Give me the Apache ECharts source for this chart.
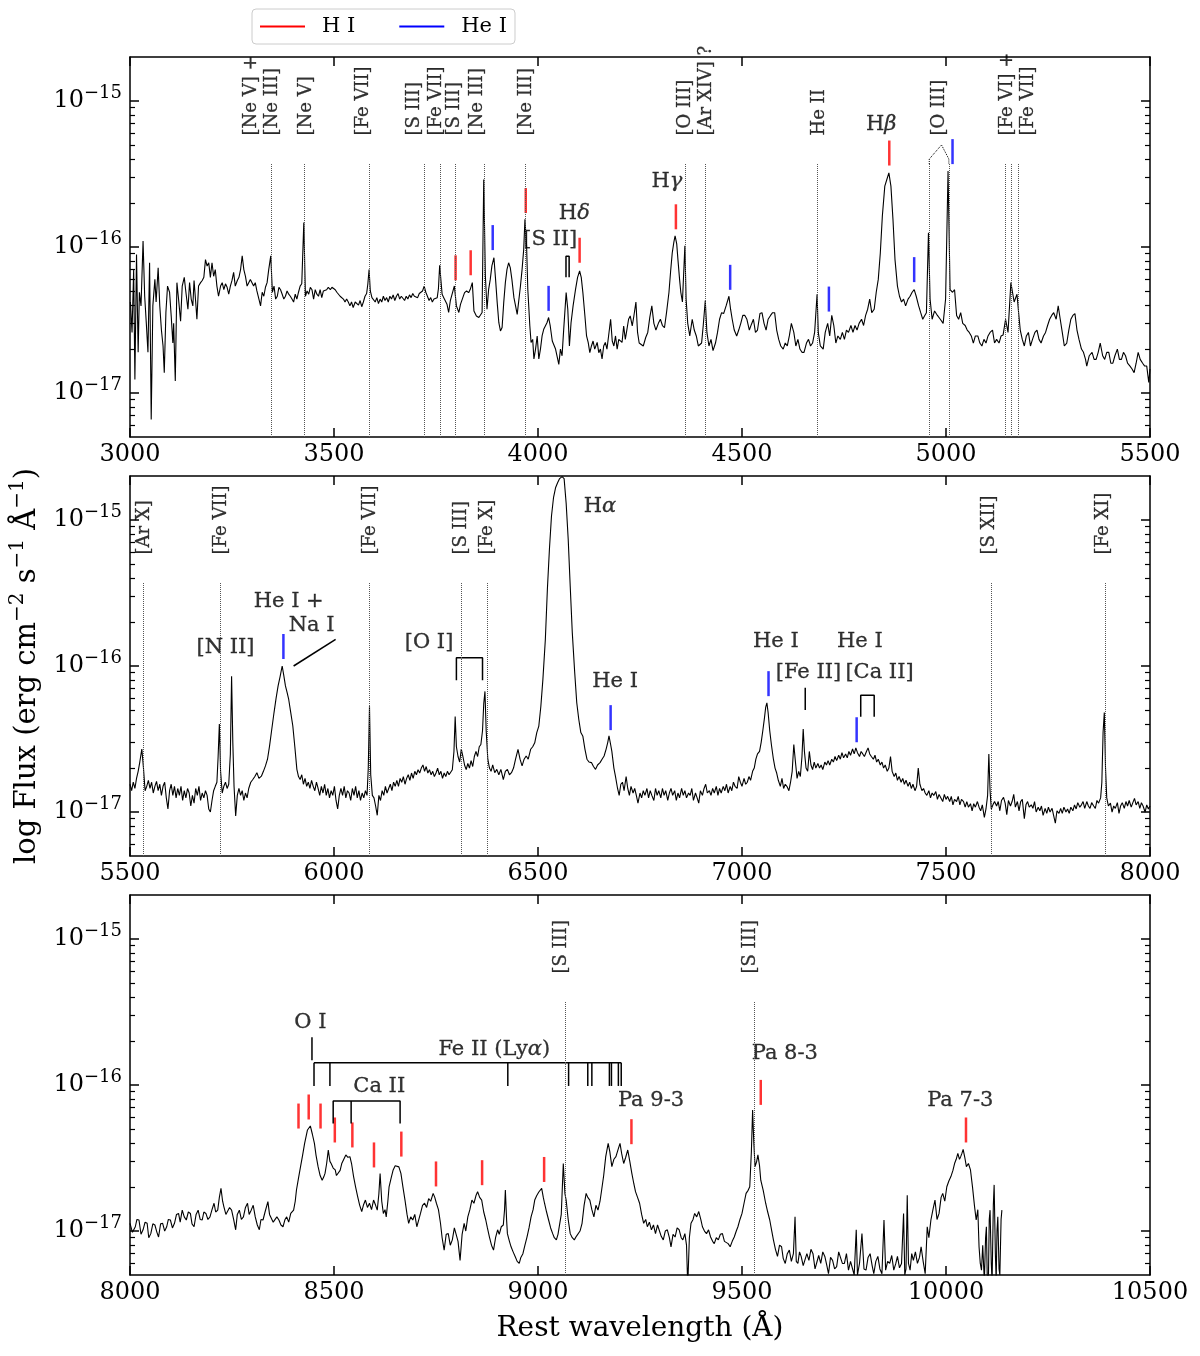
<!DOCTYPE html>
<html>
<head>
<meta charset="UTF-8">
<title>Optical spectrum</title>
<script src="https://cdn.jsdelivr.net/npm/echarts@6.0.0/dist/echarts.min.js"></script>
<style>
  html, body { margin: 0; padding: 0; background: #fff; }
  #chart { width: 1200px; height: 1356px; }
</style>
</head>
<body>
<div id="chart"></div>
<script>
// fluxes below are in units of 1e-17 erg cm^-2 s^-1 A^-1, wavelengths in A
var S = 1e-17;

var spec1 = [
  [3001,4.2],[3005,2.6],[3009,7.0],[3012,1.24],[3016,8.9],[3020,1.9],[3023,4.9],[3027,3.95],[3032,11.0],[3036,4.6],
  [3040,3.0],[3044,1.9],[3048,7.8],[3052,0.66],[3056,3.95],[3061,6.0],[3064,4.2],[3069,7.2],[3073,3.95],[3077,2.7],
  [3081,2.1],[3084,1.38],[3088,3.56],[3092,5.4],[3097,4.9],[3101,3.37],[3105,2.2],[3107,3.0],[3111,1.21],[3115,5.7],
  [3119,4.4],[3124,3.1],[3128,5.4],[3133,6.2],[3137,4.9],[3142,3.75],[3146,5.7],[3150,4.4],[3154,3.95],[3157,5.9],
  [3161,4.2],[3164,3.2],[3168,5.4],[3173,5.7],[3177,5.9],[3181,6.2],[3185,8.2],[3189,7.4],[3193,7.8],[3197,6.2],
  [3201,7.8],[3205,6.3],[3209,7.0],[3213,5.4],[3217,4.6],[3222,5.4],[3226,5.7],[3230,5.1],[3234,5.6],[3238,5.3],
  [3242,4.75],[3246,5.4],[3250,5.9],[3254,6.7],[3258,5.4],[3263,5.9],[3267,6.2],[3271,7.0],[3275,8.7],[3279,7.0],
  [3283,6.3],[3287,5.4],[3291,5.7],[3295,6.0],[3299,5.9],[3303,5.4],[3307,5.7],[3311,5.0],[3316,4.4],[3320,3.95],
  [3324,4.9],[3328,4.6],[3332,5.3],[3336,5.7],[3340,7.0],[3345,8.7],[3349,4.9],[3353,5.4],[3357,4.4],[3361,4.6],
  [3365,5.3],[3369,5.1],[3373,4.75],[3377,4.4],[3381,4.6],[3385,5.0],[3389,4.75],[3393,4.6],[3397,4.4],[3401,4.2],
  [3405,4.75],[3409,4.4],[3413,4.9],[3417,5.4],[3421,5.6],[3426,14.7],[3430,4.6],[3434,5.0],[3438,4.75],[3442,5.3],
  [3446,5.1],[3450,4.4],[3454,5.1],[3458,4.75],[3462,4.6],[3466,5.1],[3470,4.5],[3474,5.0],[3478,4.9],[3482,5.1],
  [3486,5.3],[3491,5.1],[3495,5.3],[3499,5.3],[3503,5.1],[3507,4.9],[3511,4.75],[3515,4.6],[3519,4.5],[3523,4.4],
  [3527,4.2],[3531,4.4],[3535,4.2],[3539,3.95],[3543,4.2],[3547,3.85],[3552,4.2],[3556,4.2],[3560,4.0],[3564,4.3],
  [3568,3.9],[3572,4.2],[3576,4.6],[3580,4.8],[3583,5.6],[3586,7.0],[3589,5.0],[3593,4.5],[3597,4.6],[3601,4.2],
  [3605,4.5],[3609,4.1],[3613,4.4],[3617,4.2],[3621,4.6],[3625,4.3],[3629,4.5],[3633,4.2],[3637,4.6],[3641,4.4],
  [3645,4.7],[3649,4.3],[3653,4.6],[3657,4.8],[3661,4.4],[3665,4.6],[3669,4.5],[3673,4.3],[3677,4.6],[3681,4.4],
  [3685,4.7],[3689,4.5],[3693,4.8],[3697,4.6],[3701,4.7],[3705,4.5],[3709,4.8],[3713,4.7],[3717,5.0],[3721,5.4],
  [3725,4.9],[3729,4.6],[3733,4.3],[3737,4.5],[3741,4.2],[3745,4.4],[3749,4.3],[3753,4.5],[3756,5.2],[3759,7.5],
  [3765,4.74],[3769,4.5],[3773,4.38],[3777,4.05],[3781,3.56],[3785,4.27],[3789,4.38],[3795,5.41],[3800,3.95],[3806,3.56],
  [3810,4.05],[3814,3.95],[3820,4.87],[3825,5.0],[3830,4.87],[3834,5.13],[3839,5.7],[3843,3.65],[3849,3.37],[3855,3.29],
  [3859,3.2],[3863,3.56],[3867,29.0],[3871,6.34],[3875,3.75],[3879,5.13],[3883,6.0],[3887,7.42],[3892,8.45],[3896,6.0],
  [3900,4.16],[3904,3.03],[3908,2.66],[3912,2.81],[3916,4.16],[3920,5.7],[3924,7.03],[3928,7.8],[3932,7.23],[3936,6.0],
  [3941,4.5],[3945,3.95],[3949,3.46],[3953,3.56],[3957,5.41],[3961,7.03],[3965,9.64],[3968,15.5],[3972,10.2],[3975,5.13],
  [3980,2.88],[3983,2.22],[3987,2.33],[3990,1.71],[3994,2.0],[3998,2.46],[4002,1.71],[4006,2.0],[4010,2.46],[4014,2.73],
  [4018,2.81],[4022,3.03],[4026,3.29],[4030,2.88],[4035,2.27],[4039,2.22],[4043,2.0],[4047,1.94],[4051,1.57],[4055,2.0],
  [4059,1.8],[4063,2.73],[4069,4.87],[4073,3.75],[4077,2.1],[4081,3.03],[4086,3.95],[4092,5.13],[4097,6.2],[4102,6.85],
  [4106,6.2],[4110,4.87],[4115,3.37],[4119,2.46],[4123,2.22],[4127,1.89],[4131,2.1],[4135,2.27],[4139,2.0],[4145,2.22],
  [4149,1.89],[4153,2.0],[4157,1.71],[4161,2.1],[4165,2.22],[4169,2.0],[4173,2.46],[4178,3.2],[4182,2.27],[4186,2.1],
  [4190,2.46],[4194,2.0],[4198,2.33],[4202,2.4],[4206,2.22],[4210,2.88],[4214,2.33],[4218,2.73],[4222,3.2],[4226,3.37],
  [4231,2.88],[4235,3.37],[4240,4.2],[4244,2.6],[4248,2.2],[4258,2.1],[4264,2.4],[4269,2.6],[4274,3.3],[4279,3.95],
  [4284,3.0],[4289,2.7],[4295,3.0],[4300,3.2],[4305,2.9],[4310,2.8],[4315,3.55],[4321,4.9],[4325,6.8],[4329,9.1],
  [4333,10.8],[4336,11.9],[4340,10.5],[4343,8.2],[4347,6.0],[4350,4.9],[4354,4.2],[4360,10.2],[4363,4.4],[4367,3.0],
  [4372,2.46],[4378,3.2],[4383,2.7],[4388,2.46],[4393,2.1],[4401,2.2],[4405,2.9],[4410,4.3],[4414,2.6],[4419,2.1],
  [4424,2.33],[4429,1.95],[4435,2.2],[4440,2.6],[4445,3.2],[4450,3.55],[4455,3.5],[4461,3.95],[4468,4.6],[4472,3.75],
  [4476,3.2],[4481,2.7],[4487,2.46],[4492,2.7],[4497,3.0],[4502,3.4],[4507,3.4],[4512,3.2],[4518,2.7],[4523,2.95],
  [4528,3.2],[4533,2.6],[4538,2.7],[4544,3.5],[4549,3.55],[4554,3.0],[4559,2.7],[4564,3.2],[4570,3.4],[4575,3.55],
  [4580,3.55],[4585,2.7],[4590,2.33],[4595,2.1],[4601,2.0],[4606,2.2],[4611,2.1],[4616,2.46],[4621,3.0],[4627,2.6],
  [4632,2.1],[4637,2.33],[4642,2.0],[4647,1.9],[4652,1.9],[4658,2.2],[4663,2.33],[4668,2.1],[4673,2.2],[4678,2.6],
  [4684,4.75],[4687,2.6],[4692,2.1],[4699,2.0],[4704,2.6],[4710,3.0],[4715,2.46],[4720,3.4],[4725,2.9],[4730,2.2],
  [4735,2.46],[4741,2.33],[4746,2.6],[4751,2.33],[4756,2.7],[4761,2.6],[4767,2.9],[4772,2.6],[4777,2.9],[4782,2.7],
  [4787,3.0],[4793,3.2],[4798,2.9],[4803,3.4],[4808,3.75],[4813,4.4],[4818,3.55],[4824,3.75],[4829,4.9],[4834,6.0],
  [4839,9.1],[4844,16.3],[4850,26.1],[4855,29.0],[4860,32.2],[4865,26.1],[4870,15.5],[4875,8.2],[4881,5.4],[4886,4.6],
  [4891,4.2],[4896,4.4],[4901,3.95],[4907,4.4],[4912,4.6],[4917,4.9],[4922,5.1],[4927,4.6],[4933,3.95],[4938,3.55],
  [4943,3.2],[4948,3.4],[4952,3.55],[4957,12.5],[4961,4.4],[4966,3.2],[4972,3.65],[4979,3.4],[4986,3.2],[4993,3.0],
  [4999,4.4],[5005,33.1],[5010,5.1],[5016,4.9],[5021,5.1],[5026,3.4],[5031,3.2],[5036,3.55],[5041,3.0],[5047,2.9],
  [5052,2.7],[5057,2.6],[5062,2.46],[5067,2.2],[5072,2.46],[5078,2.46],[5083,2.2],[5088,2.1],[5093,2.33],[5098,2.2],
  [5103,2.46],[5108,2.6],[5114,2.7],[5119,2.2],[5124,2.33],[5130,2.2],[5135,2.46],[5140,2.5],[5146,3.2],[5152,2.6],
  [5159,5.7],[5163,4.9],[5167,4.2],[5174,4.75],[5178,3.55],[5182,2.7],[5187,2.33],[5192,2.1],[5197,2.46],[5202,2.6],
  [5207,2.1],[5212,2.33],[5218,2.6],[5223,2.7],[5228,2.33],[5233,2.2],[5239,2.46],[5244,2.6],[5249,2.9],[5254,3.2],
  [5259,3.4],[5264,3.55],[5270,3.2],[5275,3.95],[5280,3.2],[5285,2.6],[5290,2.1],[5296,2.2],[5301,2.7],[5306,3.2],
  [5311,3.4],[5316,3.5],[5321,2.7],[5326,2.33],[5332,2.0],[5337,1.9],[5342,1.7],[5345,1.53],[5351,1.8],[5358,1.9],
  [5363,1.7],[5368,1.7],[5373,1.9],[5378,2.2],[5384,1.8],[5389,1.7],[5394,1.9],[5399,1.9],[5404,1.6],[5409,1.6],
  [5414,1.8],[5420,2.0],[5425,1.7],[5430,1.7],[5435,1.9],[5440,1.8],[5445,1.6],[5451,1.53],[5456,1.46],[5461,1.38],
  [5466,1.6],[5471,1.9],[5476,1.7],[5482,1.6],[5487,1.53],[5492,1.53],[5497,1.18],[5500,1.46]
];

var spec2 = [
  [5500,1.55],[5504,1.4],[5508,1.6],[5512,1.45],[5516,1.7],[5520,1.9],[5524,2.2],[5529,2.7],[5533,2.0],[5537,1.4],
  [5541,1.5],[5545,1.65],[5549,1.45],[5553,1.6],[5557,1.35],[5561,1.5],[5565,1.62],[5569,1.4],[5573,1.55],[5577,1.3],
  [5581,1.5],[5585,1.6],[5589,1.25],[5593,1.05],[5597,1.4],[5601,1.55],[5605,1.3],[5609,1.5],[5613,1.25],[5617,1.45],
  [5621,1.3],[5625,1.5],[5629,1.2],[5633,1.4],[5637,1.25],[5641,1.45],[5645,1.35],[5649,1.1],[5653,1.3],[5657,1.15],
  [5661,1.45],[5665,1.3],[5669,1.5],[5673,1.2],[5677,1.35],[5681,1.25],[5685,1.4],[5689,1.3],[5693,1.05],[5697,1.0],
  [5701,1.2],[5705,1.4],[5709,1.5],[5713,1.6],[5716,2.4],[5719,4.0],[5722,1.9],[5726,1.35],[5730,1.5],[5734,1.6],
  [5738,1.45],[5742,1.55],[5746,2.5],[5749,8.5],[5752,3.0],[5755,1.5],[5759,0.94],[5763,1.3],[5767,1.45],[5771,1.3],
  [5775,1.4],[5779,1.2],[5783,1.35],[5787,1.25],[5791,1.45],[5796,1.6],[5801,1.67],[5806,1.75],[5811,1.86],[5816,1.7],
  [5822,1.76],[5827,1.9],[5832,2.07],[5837,2.3],[5842,2.83],[5847,3.6],[5853,4.8],[5858,6.0],[5863,7.3],[5868,8.5],
  [5873,10.0],[5877,8.6],[5881,7.3],[5885,6.6],[5889,5.9],[5894,4.8],[5899,3.9],[5904,2.8],[5909,1.96],[5913,1.75],
  [5917,1.67],[5921,1.8],[5925,1.55],[5929,1.7],[5933,1.5],[5937,1.6],[5941,1.45],[5945,1.65],[5949,1.5],[5953,1.4],
  [5957,1.6],[5961,1.45],[5965,1.3],[5969,1.5],[5973,1.35],[5977,1.55],[5981,1.3],[5985,1.45],[5989,1.25],[5993,1.4],
  [5997,1.3],[6001,1.5],[6005,1.2],[6009,1.05],[6013,1.3],[6017,1.45],[6021,1.3],[6025,1.5],[6029,1.25],[6033,1.4],
  [6037,1.35],[6041,1.2],[6045,1.45],[6049,1.3],[6053,1.5],[6057,1.25],[6061,1.4],[6065,1.2],[6069,1.35],[6073,1.25],
  [6077,1.4],[6081,1.3],[6084,2.0],[6087,5.3],[6090,1.8],[6094,1.3],[6098,1.25],[6102,1.1],[6106,0.95],[6110,1.3],
  [6114,1.2],[6118,1.4],[6122,1.3],[6126,1.5],[6130,1.35],[6134,1.45],[6138,1.55],[6142,1.4],[6146,1.6],[6150,1.5],
  [6154,1.65],[6158,1.5],[6162,1.7],[6166,1.6],[6170,1.75],[6174,1.55],[6178,1.7],[6182,1.8],[6186,1.65],[6190,1.85],
  [6194,1.7],[6198,1.9],[6202,1.8],[6206,1.95],[6210,1.85],[6214,2.0],[6218,2.1],[6222,1.9],[6226,2.05],[6230,1.85],
  [6234,1.95],[6238,1.8],[6242,1.9],[6246,1.75],[6250,1.85],[6254,2.0],[6258,1.8],[6262,1.9],[6266,1.7],[6270,1.85],
  [6274,1.75],[6278,1.9],[6282,1.8],[6286,1.85],[6290,1.95],[6294,2.6],[6297,4.5],[6300,2.8],[6304,2.4],[6308,2.2],
  [6312,2.7],[6316,2.4],[6320,2.1],[6324,1.95],[6328,2.15],[6332,2.0],[6336,2.25],[6340,2.05],[6344,2.4],[6348,2.6],
  [6352,2.4],[6356,2.8],[6360,2.9],[6364,3.6],[6367,5.5],[6370,6.7],[6373,3.6],[6377,2.3],[6381,2.0],[6385,1.9],
  [6389,2.1],[6394,1.86],[6399,1.96],[6404,1.8],[6409,1.96],[6415,1.67],[6420,1.9],[6425,1.96],[6430,1.8],[6435,1.86],
  [6440,2.0],[6445,2.3],[6451,2.69],[6456,2.3],[6461,2.07],[6466,2.3],[6471,2.42],[6476,2.3],[6482,2.69],[6487,2.8],
  [6492,2.98],[6497,3.5],[6502,3.88],[6507,5.3],[6512,8.1],[6518,15.2],[6523,33.5],[6528,63],[6533,106],[6538,142],
  [6543,166],[6548,180],[6553,192],[6559,198],[6564,192],[6569,130],[6574,74],[6579,35],[6584,17],[6590,9.0],
  [6595,5.6],[6600,4.3],[6605,3.5],[6610,3.3],[6615,2.7],[6620,2.3],[6625,2.2],[6631,2.18],[6636,2.05],[6641,1.96],
  [6646,2.1],[6652,2.18],[6657,2.3],[6662,2.42],[6667,2.7],[6671,3.0],[6674,3.32],[6678,2.9],[6681,2.6],[6686,2.0],
  [6690,1.75],[6695,1.45],[6699,1.3],[6703,1.55],[6707,1.6],[6711,1.4],[6716,1.75],[6720,1.45],[6724,1.3],[6728,1.5],
  [6733,1.35],[6737,1.45],[6741,1.3],[6745,1.15],[6750,1.35],[6754,1.25],[6758,1.4],[6762,1.3],[6767,1.45],[6771,1.25],
  [6775,1.4],[6779,1.3],[6784,1.2],[6788,1.45],[6792,1.3],[6796,1.4],[6801,1.25],[6805,1.45],[6809,1.3],[6813,1.4],
  [6818,1.2],[6822,1.35],[6826,1.45],[6830,1.3],[6835,1.4],[6839,1.2],[6843,1.35],[6847,1.25],[6852,1.45],[6856,1.3],
  [6860,1.4],[6864,1.25],[6869,1.35],[6873,1.3],[6877,1.45],[6881,1.2],[6886,1.35],[6890,1.25],[6894,1.15],[6898,1.4],
  [6903,1.3],[6907,1.45],[6911,1.55],[6915,1.35],[6920,1.4],[6924,1.3],[6928,1.45],[6932,1.35],[6937,1.5],[6941,1.3],
  [6945,1.45],[6949,1.35],[6954,1.5],[6958,1.4],[6962,1.55],[6966,1.35],[6971,1.5],[6975,1.4],[6979,1.6],[6983,1.5],
  [6988,1.45],[6992,1.75],[6996,1.6],[7000,1.5],[7005,1.7],[7009,1.55],[7013,1.6],[7017,1.75],[7021,1.65],[7026,1.9],
  [7030,2.0],[7034,2.3],[7038,2.5],[7043,2.6],[7047,3.0],[7051,3.6],[7055,4.4],[7058,5.2],[7061,5.6],[7064,4.8],
  [7068,3.6],[7072,2.9],[7077,2.3],[7081,2.0],[7085,1.85],[7089,1.65],[7094,1.5],[7098,1.7],[7102,1.45],[7106,1.55],
  [7110,1.5],[7115,1.4],[7119,1.6],[7123,1.9],[7127,2.9],[7131,2.2],[7135,1.7],[7139,1.9],[7143,1.75],[7147,2.4],
  [7150,3.7],[7153,2.6],[7157,2.0],[7161,1.9],[7165,2.6],[7169,2.1],[7173,1.95],[7177,2.2],[7181,2.0],[7186,2.15],
  [7190,2.0],[7194,2.1],[7198,1.95],[7203,2.2],[7207,2.1],[7211,2.25],[7215,2.1],[7220,2.3],[7224,2.2],[7228,2.4],
  [7232,2.25],[7237,2.45],[7241,2.3],[7245,2.55],[7249,2.35],[7254,2.5],[7258,2.35],[7262,2.6],[7266,2.45],[7271,2.7],
  [7275,2.5],[7279,2.75],[7283,2.55],[7288,2.4],[7292,2.6],[7296,2.5],[7300,2.4],[7305,2.6],[7309,2.75],[7313,2.5],
  [7317,2.4],[7322,2.3],[7326,2.45],[7330,2.2],[7334,2.3],[7339,2.1],[7343,2.2],[7347,2.0],[7351,2.1],[7356,1.9],
  [7360,2.0],[7364,2.4],[7368,1.9],[7373,1.75],[7377,1.85],[7381,1.65],[7385,1.75],[7390,1.6],[7394,1.7],[7398,1.55],
  [7402,1.65],[7407,1.5],[7411,1.6],[7415,1.45],[7419,1.55],[7424,1.4],[7428,1.5],[7432,2.0],[7436,1.55],[7441,1.4],
  [7445,1.45],[7449,1.35],[7453,1.3],[7458,1.4],[7462,1.25],[7466,1.35],[7470,1.3],[7475,1.38],[7479,1.22],[7483,1.32],
  [7487,1.28],[7492,1.18],[7496,1.32],[7500,1.22],[7504,1.28],[7509,1.18],[7513,1.28],[7517,1.12],[7521,1.22],[7526,1.18],
  [7530,1.28],[7534,1.12],[7538,1.22],[7543,1.18],[7547,1.08],[7551,1.18],[7555,1.08],[7560,1.14],[7564,1.02],[7568,1.14],
  [7572,1.08],[7577,1.18],[7581,1.08],[7585,1.02],[7589,1.12],[7594,0.92],[7598,1.05],[7602,1.3],[7605,2.5],[7608,1.4],
  [7611,1.05],[7615,1.12],[7619,1.18],[7624,1.1],[7628,1.18],[7632,1.02],[7636,1.2],[7641,1.26],[7645,1.15],[7649,0.96],
  [7653,1.2],[7658,1.1],[7662,1.18],[7666,1.32],[7670,1.08],[7675,1.18],[7679,1.02],[7683,1.18],[7687,1.22],[7692,0.9],
  [7696,1.12],[7700,1.18],[7704,1.08],[7709,1.12],[7713,1.06],[7717,1.18],[7721,1.0],[7726,1.08],[7730,1.02],[7734,1.1],
  [7738,0.95],[7743,1.06],[7747,0.98],[7751,1.08],[7755,1.0],[7760,1.06],[7764,0.94],[7768,0.84],[7772,1.02],[7777,0.98],
  [7781,1.06],[7785,0.98],[7789,1.08],[7794,1.0],[7798,1.05],[7802,0.98],[7806,1.08],[7811,1.02],[7815,1.12],[7819,1.05],
  [7823,1.16],[7828,1.08],[7832,1.12],[7836,1.18],[7840,1.06],[7845,1.18],[7849,1.1],[7853,1.06],[7857,1.16],[7862,1.1],
  [7866,1.06],[7870,1.2],[7874,1.15],[7879,1.25],[7882,1.6],[7885,3.5],[7888,4.8],[7891,2.0],[7894,1.25],[7898,1.1],
  [7903,1.15],[7907,1.0],[7911,1.1],[7915,1.06],[7920,1.16],[7924,0.98],[7928,1.1],[7932,1.16],[7937,1.06],[7941,1.18],
  [7945,1.1],[7949,1.2],[7954,1.08],[7958,1.16],[7962,1.24],[7966,1.12],[7971,1.18],[7975,1.06],[7979,1.16],[7983,1.1],
  [7988,1.0],[7992,1.12],[7996,1.05],[8000,1.1]
];

var spec3 = [
  [8000,1.13],[8006,0.98],[8013,1.07],[8017,1.2],[8022,1.19],[8027,0.95],[8032,1.02],[8037,1.15],[8042,1.13],[8046,0.9],
  [8051,0.96],[8056,1.12],[8061,1.1],[8066,0.98],[8070,0.91],[8075,1.12],[8080,1.13],[8085,1.0],[8090,1.07],[8094,1.2],
  [8099,1.19],[8104,1.05],[8109,1.13],[8114,1.3],[8119,1.32],[8123,1.15],[8128,1.39],[8133,1.25],[8138,1.19],[8143,1.35],
  [8148,1.32],[8152,1.12],[8157,1.07],[8162,1.3],[8167,1.39],[8172,1.2],[8177,1.19],[8181,1.35],[8186,1.32],[8191,1.2],
  [8196,1.25],[8201,1.4],[8206,1.55],[8210,1.35],[8215,1.39],[8219,1.7],[8223,1.96],[8227,1.6],[8230,1.47],[8235,1.3],
  [8239,1.32],[8244,1.45],[8249,1.39],[8254,1.2],[8259,1.02],[8263,1.3],[8268,1.39],[8273,1.2],[8278,1.25],[8283,1.45],
  [8288,1.55],[8292,1.3],[8297,1.39],[8302,1.5],[8307,1.25],[8312,1.1],[8317,1.02],[8321,1.2],[8326,1.19],[8331,1.35],
  [8338,1.59],[8342,1.3],[8346,1.32],[8351,1.15],[8355,1.13],[8360,1.25],[8365,1.19],[8370,1.1],[8375,1.07],[8380,1.2],
  [8384,1.25],[8389,1.15],[8394,1.32],[8398,1.3],[8401,1.39],[8405,1.6],[8408,1.91],[8413,2.3],[8418,2.76],[8423,3.3],
  [8428,3.98],[8435,4.92],[8442,5.24],[8447,4.6],[8452,3.98],[8456,3.3],[8461,2.76],[8466,2.4],[8471,2.23],[8475,2.35],
  [8478,2.48],[8482,2.9],[8486,3.59],[8490,3.0],[8493,2.9],[8498,2.7],[8503,2.62],[8506,2.4],[8510,2.36],[8515,2.6],
  [8519,2.9],[8524,3.1],[8529,3.32],[8534,3.2],[8539,3.23],[8543,2.9],[8548,2.36],[8553,2.0],[8558,1.72],[8563,1.5],
  [8568,1.36],[8572,1.5],[8577,1.63],[8582,1.45],[8587,1.55],[8592,1.4],[8597,1.63],[8602,1.5],[8606,1.39],[8610,1.8],
  [8613,2.48],[8617,1.6],[8621,1.32],[8625,1.4],[8628,1.25],[8632,1.6],[8635,2.01],[8640,2.3],[8645,2.62],[8650,2.8],
  [8654,2.88],[8659,2.75],[8664,2.48],[8669,2.0],[8674,1.63],[8679,1.3],[8683,1.13],[8688,1.25],[8693,1.19],[8698,1.3],
  [8703,1.07],[8708,1.2],[8712,1.32],[8717,1.5],[8722,1.55],[8727,1.45],[8732,1.67],[8737,1.6],[8743,1.81],[8747,1.7],
  [8751,1.55],[8756,1.4],[8761,1.13],[8765,0.9],[8770,0.74],[8775,0.95],[8780,0.96],[8785,0.8],[8790,0.87],[8795,1.05],
  [8799,1.02],[8804,0.85],[8809,0.63],[8814,0.95],[8819,1.13],[8823,1.0],[8828,1.25],[8833,1.4],[8838,1.63],[8843,1.55],
  [8848,1.75],[8852,1.86],[8857,1.7],[8862,1.63],[8867,1.35],[8872,1.19],[8876,1.05],[8881,0.91],[8886,0.8],[8891,0.74],
  [8896,0.9],[8901,1.02],[8905,0.95],[8910,1.07],[8915,1.1],[8918,1.4],[8920,1.91],[8923,1.2],[8925,0.96],[8930,0.85],
  [8934,0.78],[8939,0.72],[8944,0.67],[8949,0.62],[8954,0.6],[8958,0.66],[8963,0.7],[8968,0.8],[8973,0.91],[8978,1.05],
  [8983,1.25],[8988,1.4],[8992,1.63],[8997,1.75],[9002,1.85],[9009,1.96],[9013,1.7],[9016,1.55],[9021,1.35],[9026,1.19],
  [9031,1.05],[9036,0.96],[9040,0.9],[9045,0.87],[9049,0.95],[9053,0.96],[9057,1.3],[9062,2.9],[9066,1.8],[9069,1.63],
  [9074,1.2],[9079,0.96],[9084,0.9],[9089,0.87],[9094,0.92],[9098,0.91],[9103,1.0],[9108,1.13],[9113,1.5],[9118,1.81],
  [9122,1.7],[9127,1.63],[9132,1.4],[9137,1.25],[9142,1.5],[9147,1.39],[9152,1.6],[9156,1.91],[9161,2.4],[9166,3.23],
  [9172,3.98],[9176,3.5],[9181,2.76],[9186,3.1],[9191,3.23],[9196,3.6],[9201,3.98],[9205,3.4],[9210,2.9],[9215,3.2],
  [9220,3.59],[9225,3.0],[9230,2.48],[9235,2.1],[9239,1.86],[9244,1.7],[9249,1.55],[9254,1.3],[9259,1.13],[9264,1.2],
  [9268,1.07],[9273,1.15],[9278,1.02],[9283,1.1],[9288,0.96],[9293,1.1],[9297,1.07],[9302,0.92],[9307,0.87],[9312,1.0],
  [9317,1.02],[9322,0.9],[9326,0.78],[9331,0.95],[9336,0.91],[9341,1.05],[9346,1.02],[9351,0.9],[9355,0.87],[9360,0.96],
  [9364,0.8],[9367,0.42],[9371,0.9],[9375,1.13],[9380,1.2],[9384,1.32],[9389,1.25],[9394,1.36],[9399,1.2],[9403,1.07],
  [9408,1.0],[9413,0.96],[9418,1.02],[9423,0.91],[9428,0.85],[9432,0.82],[9437,0.9],[9442,0.87],[9447,0.95],[9452,0.96],
  [9457,0.85],[9461,0.87],[9466,0.82],[9471,0.78],[9476,0.85],[9481,0.91],[9486,1.0],[9490,1.07],[9495,1.2],[9500,1.32],
  [9505,1.55],[9510,1.81],[9515,1.9],[9519,2.01],[9523,3.5],[9526,6.74],[9529,4.0],[9532,2.76],[9536,3.0],[9539,3.32],
  [9543,2.8],[9546,2.23],[9552,1.9],[9558,1.55],[9563,1.35],[9568,1.19],[9573,1.0],[9577,0.87],[9582,0.75],[9587,0.67],
  [9592,0.8],[9597,0.78],[9601,0.65],[9606,0.6],[9611,0.7],[9616,0.74],[9621,0.62],[9626,0.7],[9630,1.25],[9633,0.62],
  [9637,0.6],[9641,0.72],[9645,0.67],[9650,0.58],[9654,0.57],[9659,0.7],[9664,0.63],[9669,0.75],[9674,0.7],[9679,0.55],
  [9683,0.54],[9688,0.68],[9693,0.6],[9698,0.72],[9703,0.67],[9708,0.58],[9712,0.51],[9717,0.66],[9722,0.63],[9727,0.55],
  [9732,0.57],[9737,0.72],[9741,0.7],[9746,0.6],[9751,0.6],[9756,0.7],[9761,0.54],[9766,0.62],[9770,0.63],[9775,0.5],
  [9780,1.02],[9783,0.5],[9788,0.6],[9794,0.96],[9799,0.55],[9804,0.54],[9809,0.66],[9814,0.7],[9819,0.58],[9823,0.51],
  [9828,0.62],[9833,0.67],[9838,0.55],[9843,0.51],[9848,1.19],[9852,0.54],[9857,0.62],[9862,0.6],[9867,0.68],[9872,0.54],
  [9877,0.6],[9881,0.67],[9886,0.56],[9891,0.6],[9896,1.32],[9899,0.5],[9902,0.55],[9905,1.76],[9908,0.6],[9912,0.54],
  [9916,0.7],[9920,0.63],[9925,0.72],[9930,0.6],[9935,0.66],[9939,0.78],[9944,0.62],[9949,0.51],[9954,1.07],[9958,0.9],
  [9963,1.19],[9968,1.4],[9973,1.63],[9978,1.2],[9983,1.32],[9988,1.7],[9992,1.81],[9997,1.6],[10002,2.01],[10007,2.2],
  [10012,2.36],[10017,2.6],[10021,2.9],[10025,3.1],[10029,3.4],[10033,3.1],[10036,3.23],[10039,3.4],[10042,3.62],[10046,3.2],
  [10050,2.76],[10055,2.9],[10060,2.62],[10065,2.0],[10070,1.47],[10074,1.19],[10078,1.4],[10081,0.78],[10084,0.6],[10087,0.54],
  [10090,0.8],[10094,0.45],[10097,0.9],[10099,1.07],[10101,0.5],[10104,0.48],[10106,1.2],[10108,1.39],[10111,0.6],[10113,0.45],
  [10116,1.5],[10118,2.07],[10121,0.7],[10123,0.46],[10125,1.0],[10127,1.25],[10130,0.55],[10132,0.5],[10135,1.2],[10137,1.39]
];

// vertical dotted line positions
var lines1 = [3346, 3426, 3586, 3722, 3760, 3797, 3869, 3968, 4360, 4411, 4685, 4959, 5007, 5146, 5159, 5177];
var lines2 = [5533, 5720, 6086, 6312, 6375, 7610, 7891];
var lines3 = [9066, 9530];
var lineTop = 37;

// rotated line identifications [wavelength, text]
var tags1 = [[3324, '[Ne V] +\n[Ne III]'], [3433, '[Ne V]'], [3573, '[Fe VII]'], [3696, '[S III]'], [3752, '[Fe VII]'],
  [3796, '[S III]'], [3851, '[Ne III]'], [3971, '[Ne III]'], [4386, '[O III]\n[Ar XIV] ?'], [4690, 'He II'],
  [4984, '[O III]'], [5176, '[Fe VI] +\n[Fe VII]']];
var tags2 = [[5536, '[Ar X]'], [5724, '[Fe VII]'], [6088, '[Fe VII]'], [6311, '[S III]'], [6375, '[Fe X]'],
  [7607, '[S XII]'], [7886, '[Fe XI]']];
var tags3 = [[9057, '[S III]'], [9520, '[S III]']];
var tagBase = 58;

// horizontal labels [wavelength, flux, text]
var notes1 = [[4841, 69, 'H{i|β}'], [4316, 28, 'H{i|γ}'], [4089, 17, 'H{i|δ}'], [4030, 11.2, '[S II]']];
var notes2 = [[5889, 27.6, 'He I +'], [5945, 19, 'Na I'], [5734, 13.4, '[N II]'], [6233, 14.5, '[O I]'],
  [6652, 123, 'H{i|α}'], [6689, 7.8, 'He I'], [7083, 14.6, 'He I'], [7163, 9.0, '[Fe II]'],
  [7289, 14.6, 'He I'], [7337, 9.0, '[Ca II]']];
var notes3 = [[8442, 26.7, 'O I'], [8893, 17.6, 'Fe II (Ly{i|α})'], [8611, 9.74, 'Ca II'],
  [9277, 7.8, 'Pa 9-3'], [9605, 16.3, 'Pa 8-3'], [10035, 7.8, 'Pa 7-3']];

// H I (red) and He I (blue) markers [wavelength, flux at marker centre]
var hiTicks1 = [[3798, 7.2], [3835, 7.8], [3970, 20.8], [4102, 9.5], [4338, 16.1], [4861, 44]];
var heTicks1 = [[3889, 11.6], [4026, 4.45], [4471, 6.2], [4713, 4.4], [4922, 7.0], [5016, 45]];
var hiTicks2 = [];
var heTicks2 = [[5876, 13.6], [6678, 4.43], [7065, 7.57], [7281, 3.66]];
var hiTicks3 = [[8413, 6.13], [8438, 7.07], [8467, 6.13], [8502, 4.92], [8545, 4.55], [8598, 3.32], [8665, 3.94],
  [8750, 2.46], [8863, 2.51], [9015, 2.64], [9229, 4.79], [9546, 8.9], [10049, 4.92]];
var heTicks3 = [];

// bracket / connector polylines
var brackets1 = [[[4068.6, 6.2], [4068.6, 8.65], [4076.3, 8.65], [4076.3, 6.2]]];
var oIIIJoin = [[4959, 37], [4959, 40], [4989, 50], [5007, 40], [5007, 37]];
var brackets2 = [
  [[5901, 10], [6004, 15.2]],
  [[6300, 8.0], [6300, 11.4], [6364, 11.4], [6364, 8.0]],
  [[7155, 5.0], [7155, 7.1]],
  [[7291, 4.5], [7291, 6.3], [7324, 6.3], [7324, 4.5]]
];
var feIIPos = [8451, 8490, 8926, 9075, 9122, 9132, 9175, 9180, 9197, 9204];
var brackets3 = [
  [[8446, 14.8], [8446, 21.2]],
  [[8451, 14.2], [9204, 14.2]],
  [[8498, 5.46], [8498, 7.77], [8662, 7.77], [8662, 5.46]],
  [[8542, 7.77], [8542, 5.46]]
].concat(feIIPos.map(function (w) { return [[w, 14.2], [w, 9.85]]; }));

var xRanges = [[3000, 5500], [5500, 8000], [8000, 10500]];
var yRange = [5e-18, 2e-15];
var majorVals = [1e-17, 1e-16, 1e-15];
var minorVals = [6e-18, 7e-18, 8e-18, 9e-18, 2e-17, 3e-17, 4e-17, 5e-17, 6e-17, 7e-17, 8e-17, 9e-17,
  2e-16, 3e-16, 4e-16, 5e-16, 6e-16, 7e-16, 8e-16, 9e-16];

var FONT = 'DejaVu Serif';
var panels = [
  {spec: spec1, lines: lines1, tags: tags1, notes: notes1, hi: hiTicks1, he: heTicks1, brackets: brackets1},
  {spec: spec2, lines: lines2, tags: tags2, notes: notes2, hi: hiTicks2, he: heTicks2, brackets: brackets2},
  {spec: spec3, lines: lines3, tags: tags3, notes: notes3, hi: hiTicks3, he: heTicks3, brackets: brackets3}
];
var tops = [57, 476, 895];

function sc(p) { return [p[0], p[1] * S]; }

function xAx(g, pos, showLabel) {
  var ax = {
    type: 'value', gridIndex: g, position: pos, min: xRanges[g][0], max: xRanges[g][1], interval: 500,
    axisLine: {show: true, onZero: false, lineStyle: {color: '#000', width: 1.5}},
    axisTick: {show: true, inside: true, length: 9, lineStyle: {color: '#000', width: 1.5}},
    axisLabel: showLabel ? {
      show: true, margin: 6, color: '#000', fontFamily: FONT, fontSize: 24,
      formatter: function (v) { return String(v); }
    } : {show: false},
    splitLine: {show: false}
  };
  if (g === 2 && showLabel) {
    ax.name = 'Rest wavelength (Å)';
    ax.nameLocation = 'middle';
    ax.nameGap = 40;
    ax.nameTextStyle = {fontFamily: FONT, fontSize: 28, color: '#000'};
  }
  return ax;
}

function yAx(g, pos, major, showLabel) {
  var ax = {
    type: 'log', logBase: 10, gridIndex: g, position: pos, min: yRange[0], max: yRange[1],
    axisLine: {show: major, onZero: false, lineStyle: {color: '#000', width: 1.5}},
    axisTick: major
      ? {show: true, inside: true, length: 9, customValues: majorVals, lineStyle: {color: '#000', width: 1.5}}
      : {show: true, inside: true, length: 5, customValues: minorVals, lineStyle: {color: '#000', width: 1.2}},
    axisLabel: {show: false},
    splitLine: {show: false}
  };
  if (showLabel) {
    ax.axisLabel = {
      show: true, margin: 8, color: '#000', fontFamily: FONT,
      formatter: function (v) {
        var e = Math.log10(v), r = Math.round(e);
        if (Math.abs(e - r) > 1e-6) return '';
        return '{b|10}{s|\u2212' + (-r) + '}';
      },
      rich: {
        b: {fontFamily: FONT, fontSize: 24, lineHeight: 34, color: '#000', verticalAlign: 'middle'},
        s: {fontFamily: FONT, fontSize: 18, lineHeight: 18, color: '#000', verticalAlign: 'top'}
      }
    };
  }
  if (g === 1 && showLabel) {
    ax.name = '{b|log Flux (erg cm}{s|\u22122}{b| s}{s|\u22121}{b| Å}{s|\u22121}{b|)}';
    ax.nameLocation = 'middle';
    ax.nameGap = 84;
    ax.nameTextStyle = {
      fontFamily: FONT, fontSize: 29, color: '#000',
      rich: {
        b: {fontFamily: FONT, fontSize: 29, lineHeight: 38, color: '#000', verticalAlign: 'middle'},
        s: {fontFamily: FONT, fontSize: 20, lineHeight: 20, color: '#000', verticalAlign: 'top'}
      }
    };
  }
  return ax;
}

var grids = [], xAxes = [], yAxes = [], series = [];

panels.forEach(function (p, g) {
  grids.push({left: 130, right: 50, top: tops[g], height: 380});
  xAxes.push(xAx(g, 'bottom', true), xAx(g, 'top', false));
  yAxes.push(yAx(g, 'left', true, true), yAx(g, 'left', false, false),
             yAx(g, 'right', true, false), yAx(g, 'right', false, false));
  var xi = 2 * g, yi = 4 * g;

  series.push({
    type: 'line', xAxisIndex: xi, yAxisIndex: yi, silent: true, clip: true,
    symbol: 'none', showSymbol: false,
    lineStyle: {color: '#000', width: 1.1},
    data: p.spec.map(sc),
    markLine: {
      silent: true, symbol: ['none', 'none'], animation: false, label: {show: false},
      lineStyle: {type: 'dotted', color: '#555', width: 1},
      data: p.lines.map(function (w) { return [{coord: [w, yRange[0]]}, {coord: [w, lineTop * S]}]; })
    }
  });

  p.brackets.forEach(function (b) {
    series.push({
      type: 'line', xAxisIndex: xi, yAxisIndex: yi, silent: true, symbol: 'none', clip: false,
      lineStyle: {color: '#000', width: 1.5}, data: b.map(sc)
    });
  });

  series.push({
    type: 'scatter', xAxisIndex: xi, yAxisIndex: yi, silent: true, symbolSize: 0,
    itemStyle: {color: '#000'},
    label: {
      show: true, position: 'inside', rotate: 90, align: 'left', verticalAlign: 'middle',
      fontFamily: FONT, fontSize: 18, lineHeight: 21, color: '#000',
      textBorderColor: '#000', textBorderWidth: 0.3,
      formatter: function (d) { return d.name; }
    },
    data: p.tags.map(function (t) { return {name: t[1], value: [t[0], tagBase * S]}; })
  });

  series.push({
    type: 'scatter', xAxisIndex: xi, yAxisIndex: yi, silent: true, symbolSize: 0,
    itemStyle: {color: '#000'},
    label: {
      show: true, position: 'inside', align: 'center', verticalAlign: 'middle',
      fontFamily: FONT, fontSize: 21, color: '#000',
      textBorderColor: '#000', textBorderWidth: 0.3,
      formatter: function (d) { return d.name; },
      rich: {i: {fontFamily: FONT, fontSize: 21, fontStyle: 'italic', color: '#000',
                 textBorderColor: '#000', textBorderWidth: 0.3}}
    },
    data: p.notes.map(function (t) { return {name: t[2], value: [t[0], t[1] * S]}; })
  });

  [[p.hi, '#ff0000'], [p.he, '#0000ff']].forEach(function (m) {
    if (!m[0].length) return;
    series.push({
      type: 'scatter', xAxisIndex: xi, yAxisIndex: yi, silent: true,
      symbol: 'rect', symbolSize: [2.5, 25], itemStyle: {color: m[1]},
      data: m[0].map(sc)
    });
  });

  if (g === 0) {
    series.push({
      type: 'line', xAxisIndex: xi, yAxisIndex: yi, silent: true, symbol: 'none', clip: false,
      lineStyle: {color: '#000', width: 1, type: 'dotted'}, data: oIIIJoin.map(sc)
    });
  }
});

// legend entries
series.push(
  {name: 'H I', type: 'line', xAxisIndex: 0, yAxisIndex: 0, data: [], symbol: 'none',
   lineStyle: {color: '#ff0000', width: 2}, itemStyle: {color: '#ff0000'}},
  {name: 'He I', type: 'line', xAxisIndex: 0, yAxisIndex: 0, data: [], symbol: 'none',
   lineStyle: {color: '#0000ff', width: 2}, itemStyle: {color: '#0000ff'}}
);

var chart = echarts.init(document.getElementById('chart'), null, {renderer: 'canvas'});
chart.setOption({
  animation: false,
  backgroundColor: '#fff',
  legend: {
    left: 252, top: 9, padding: [7, 8, 7, 8], itemWidth: 45, itemHeight: 2, itemGap: 44,
    borderColor: '#cccccc', borderWidth: 1, borderRadius: 4, selectedMode: false,
    textStyle: {fontFamily: FONT, fontSize: 21, color: '#000', padding: [0, 0, 0, 12]},
    data: [{name: 'H I', icon: 'rect'}, {name: 'He I', icon: 'rect'}]
  },
  grid: grids,
  xAxis: xAxes,
  yAxis: yAxes,
  series: series
});
</script>
</body>
</html>
